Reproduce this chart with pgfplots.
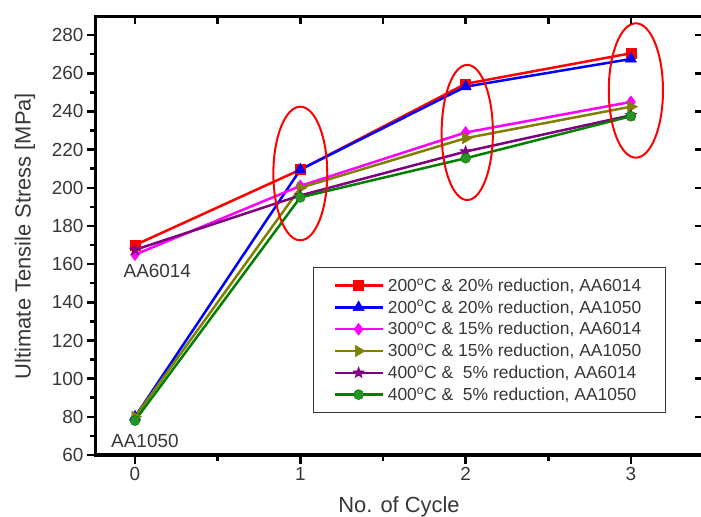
\documentclass[border=0pt]{standalone}
\usepackage{pgfplots}
\pgfplotsset{compat=1.18}
\usepackage{fontspec}
\setmainfont{Liberation Sans}
\definecolor{txt}{RGB}{55,55,55}
\definecolor{redc}{RGB}{255,0,0}
\definecolor{bluec}{RGB}{0,0,255}
\definecolor{magc}{RGB}{255,0,255}
\definecolor{olivec}{RGB}{128,128,0}
\definecolor{purplec}{RGB}{128,0,128}
\definecolor{greenc}{RGB}{0,128,0}

% filled five-point star
\pgfdeclareplotmark{fstar}{%
  \pgfpathmoveto{\pgfpointpolar{90}{\pgfplotmarksize}}%
  \pgfpathlineto{\pgfpointpolar{126}{0.42\pgfplotmarksize}}%
  \pgfpathlineto{\pgfpointpolar{162}{\pgfplotmarksize}}%
  \pgfpathlineto{\pgfpointpolar{198}{0.42\pgfplotmarksize}}%
  \pgfpathlineto{\pgfpointpolar{234}{\pgfplotmarksize}}%
  \pgfpathlineto{\pgfpointpolar{270}{0.42\pgfplotmarksize}}%
  \pgfpathlineto{\pgfpointpolar{306}{\pgfplotmarksize}}%
  \pgfpathlineto{\pgfpointpolar{342}{0.42\pgfplotmarksize}}%
  \pgfpathlineto{\pgfpointpolar{18}{\pgfplotmarksize}}%
  \pgfpathlineto{\pgfpointpolar{54}{0.42\pgfplotmarksize}}%
  \pgfpathclose
  \pgfusepathqfillstroke
}

\begin{document}
\begin{tikzpicture}
  \begin{axis}[
    name=ax,
    scale only axis,
    width=606bp, height=438bp,
    xmin=-0.236, xmax=3.43,
    ymin=60, ymax=289.5,
    xtick={0,1,2,3},
    ytick={60,80,...,280},
    minor x tick num=1,
    minor y tick num=1,
    xtick pos=bottom, ytick pos=left,
    tick align=outside,
    major tick length=9bp, minor tick length=6bp,
    every tick/.style={black, line width=2.5bp},
    axis line style={line width=3bp},
    tick label style={font=\fontsize{19}{20}\selectfont, text=txt},
    /pgf/number format/assume math mode=true,
    xlabel={No. of Cycle},
    ylabel={Ultimate Tensile Stress [MPa]},
    label style={font=\fontsize{22}{24}\selectfont, text=txt},
    xlabel style={yshift=-9bp},
    ylabel style={yshift=10bp},
    legend cell align=left,
    legend style={
      at={(0.358,0.429)}, anchor=north west,
      draw=txt, line width=0.8bp, fill=white,
      font=\fontsize{17.5}{20}\selectfont, text=txt,
      inner xsep=20bp, inner ysep=9bp,
      row sep=3.5bp,
      nodes={inner xsep=4bp},
    },
    legend image code/.code={
      \draw[mark repeat=2, mark phase=2]
        plot coordinates {(0bp,0bp) (24bp,0bp) (48bp,0bp)};
    },
    every axis plot/.append style={line width=2.5bp},
  ]
    \addplot[redc, mark=square*, mark size=5bp, mark options={line width=0.5bp}]
      coordinates {(0,170) (1,209.5) (2,254.5) (3,270.5)};
    \addlegendentry{200\textsuperscript{o}C \& 20\% reduction, AA6014}

    \addplot[bluec, mark=triangle*, mark size=6.5bp, mark options={line width=0.5bp}]
      coordinates {(0,80) (1,209.5) (2,253) (3,267.5)};
    \addlegendentry{200\textsuperscript{o}C \& 20\% reduction, AA1050}

    \addplot[magc, mark=diamond*, mark size=6bp, mark options={line width=0.5bp}]
      coordinates {(0,165) (1,201) (2,229) (3,245)};
    \addlegendentry{300\textsuperscript{o}C \& 15\% reduction, AA6014}

    \addplot[olivec, mark=triangle*, mark size=6.5bp, mark options={rotate=-90, line width=0.5bp}]
      coordinates {(0,80) (1,200) (2,226) (3,242.5)};
    \addlegendentry{300\textsuperscript{o}C \& 15\% reduction, AA1050}

    \addplot[purplec, mark=fstar, mark size=6bp, mark options={line width=0.4bp}]
      coordinates {(0,167.5) (1,196) (2,219) (3,238)};
    \addlegendentry{400\textsuperscript{o}C \&\ \ 5\% reduction, AA6014}

    \addplot[greenc, mark=*, mark size=5bp, mark options={fill=greenc!85, draw=greenc, line width=0.5bp}]
      coordinates {(0,78) (1,195) (2,215.5) (3,237.5)};
    \addlegendentry{400\textsuperscript{o}C \&\ \ 5\% reduction, AA1050}

    % red ellipses marking the groups
    \draw[redc, line width=2bp] (axis cs:1,207.5) ellipse [x radius=0.163, y radius=35];
    \draw[redc, line width=2bp] (axis cs:2.01,229) ellipse [x radius=0.155, y radius=35.4];
    \draw[redc, line width=2bp] (axis cs:3.03,251) ellipse [x radius=0.164, y radius=35.2];

    \node[font=\fontsize{19}{20}\selectfont, text=txt] at (axis cs:0.135,156.6) {AA6014};
    \node[font=\fontsize{19}{20}\selectfont, text=txt] at (axis cs:0.06,67.3) {AA1050};
  \end{axis}

  % mirrored ticks on top and right, pointing inward
  \begin{axis}[
    scale only axis,
    width=606bp, height=438bp,
    xmin=-0.236, xmax=3.43,
    ymin=60, ymax=289.5,
    xtick={0,0.5,...,3},
    ytick={60,80,...,280},
    xticklabels={}, yticklabels={},
    xtick pos=top, ytick pos=right,
    tick align=inside,
    major tick length=7bp,
    every tick/.style={black, line width=2.5bp},
    axis line style={draw=none},
  ]
  \end{axis}

  \pgfresetboundingbox
  \path ([xshift=-96bp, yshift=-62bp]ax.south west)
    rectangle ([xshift=-1bp, yshift=17bp]ax.north east);
\end{tikzpicture}
\end{document}
